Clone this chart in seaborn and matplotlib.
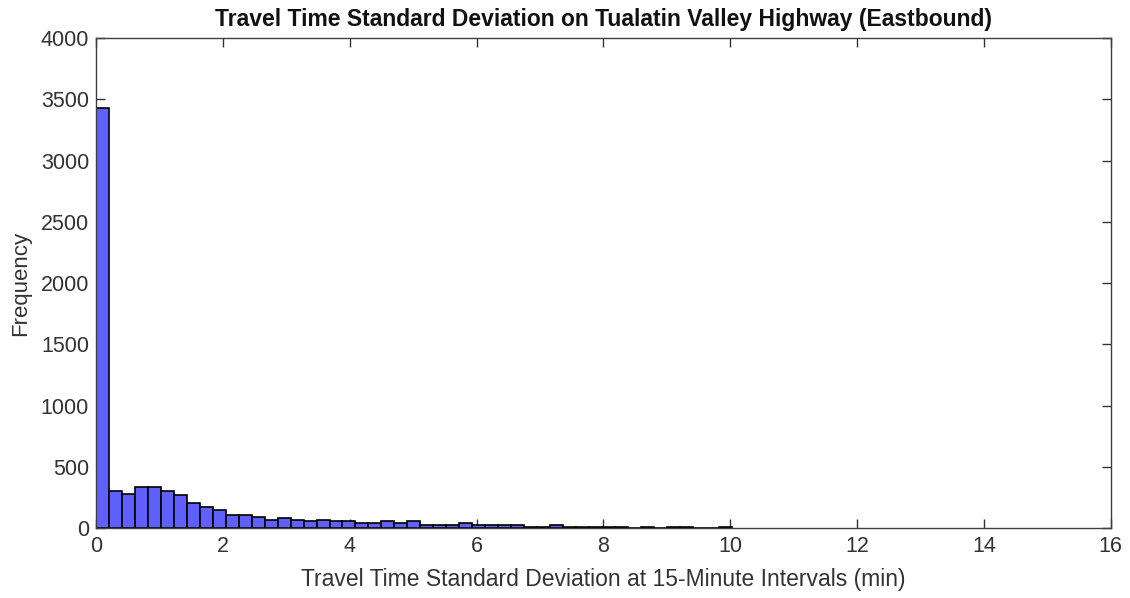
import numpy as np
import pandas as pd
import seaborn as sns
import matplotlib.pyplot as plt

# histogram counts (bin width ~0.2045 min)
bin_width = 0.2045
counts = [3430, 299, 282, 337, 337, 299, 269, 204, 174, 149,
          106, 106, 92, 68, 82, 68, 54, 68, 54, 54,
          38, 38, 57, 38, 60, 22, 22, 22, 44, 22,
          22, 22, 22, 10, 10, 27, 10, 10, 10, 10,
          10, 0, 10, 0, 10, 10, 0, 0, 10]

x_ticks = [0, 2, 4, 6, 8, 10, 12, 14, 16]
y_ticks = [0, 500, 1000, 1500, 2000, 2500, 3000, 3500, 4000]

edges = list(np.arange(len(counts) + 1) * bin_width)
df = pd.DataFrame({"center": np.array(edges[:-1]) + bin_width / 2, "count": counts})

sns.set_style("ticks")
plt.rcParams["font.family"] = ["Liberation Sans", "DejaVu Sans"]
plt.rcParams["xtick.direction"] = "in"
plt.rcParams["ytick.direction"] = "in"

fig = plt.figure(figsize=(11.3, 5.98), dpi=100)
ax = fig.add_axes([0.085, 0.117, 0.898, 0.819])

sns.histplot(data=df, x="center", weights="count", bins=edges,
             color="#6060ff", edgecolor="black", linewidth=1.2,
             alpha=1, ax=ax)

ax.set_xlim(0, 16)
ax.set_ylim(0, 4000)
ax.set_xticks(x_ticks)
ax.set_yticks(y_ticks)
ax.tick_params(top=True, right=True, labelsize=15.5, length=6.5, width=1, colors="#333333")
ax.tick_params(axis="x", pad=6)
ax.tick_params(axis="y", pad=5)
for s in ax.spines.values():
    s.set_color("#404040")
    s.set_linewidth(1)

ax.set_title("Travel Time Standard Deviation on Tualatin Valley Highway (Eastbound)",
             fontsize=16.5, fontweight="bold", pad=9, color="#111111")
ax.set_xlabel("Travel Time Standard Deviation at 15-Minute Intervals (min)",
              fontsize=16.5, labelpad=8, color="#333333")
ax.set_ylabel("Frequency", fontsize=16, labelpad=7, color="#333333")

fig.savefig("out.png", dpi=100)
